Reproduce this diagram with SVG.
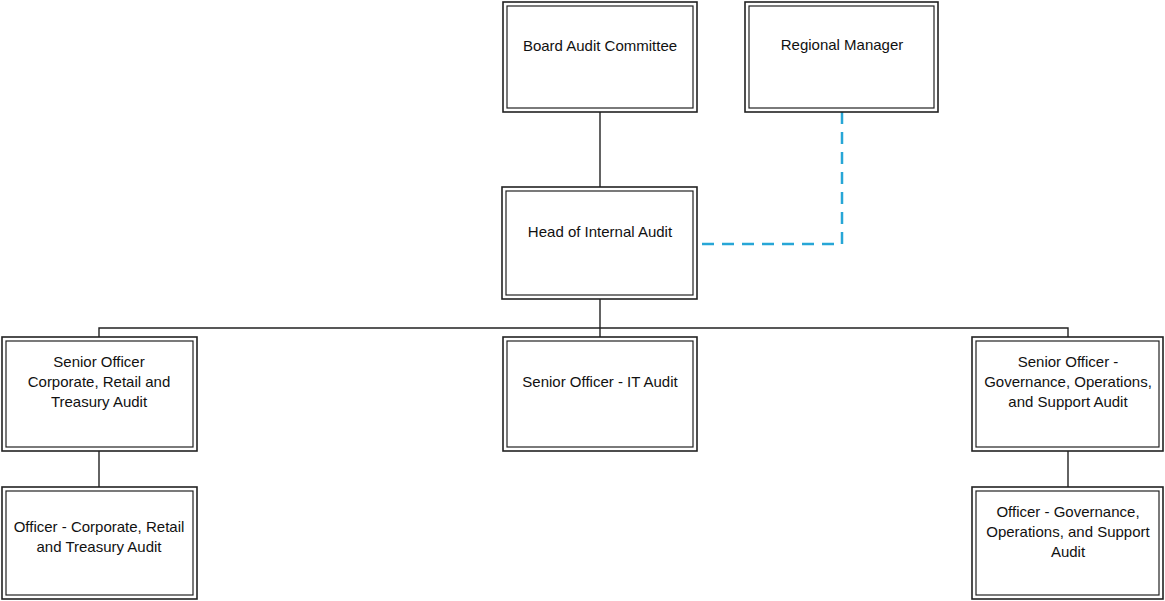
<svg xmlns="http://www.w3.org/2000/svg" width="1165" height="601" viewBox="0 0 1165 601">
<style>
.o{fill:#fff;stroke:#222;stroke-width:1.6}
.i{fill:none;stroke:#222;stroke-width:1.2}
.t{font-family:"Liberation Sans",Arial,sans-serif;font-size:15px;fill:#111;text-anchor:middle}
.c{fill:none;stroke:#222;stroke-width:1.4}
.d{fill:none;stroke:#27a6d6;stroke-width:2.5;stroke-dasharray:12 8}
</style>
<rect width="1165" height="601" fill="#fff"/>
<g id="connectors">
<line class="c" x1="600" y1="112" x2="600" y2="187"/>
<line class="c" x1="600" y1="299" x2="600" y2="337"/>
<polyline class="c" points="99,337 99,328 1068,328 1068,337"/>
<line class="c" x1="99" y1="451" x2="99" y2="487"/>
<line class="c" x1="1068" y1="450" x2="1068" y2="487"/>
<polyline class="d" points="842,112 842,244 697,244"/>
</g>
<g id="board">
<rect class="o" x="503" y="2" width="194" height="110"/><rect class="i" x="507" y="6" width="186" height="102"/>
<text class="t" x="600" y="51">Board Audit Committee</text>
</g>
<g id="regional">
<rect class="o" x="745" y="2" width="193" height="110"/><rect class="i" x="749" y="6" width="185" height="102"/>
<text class="t" x="842" y="50">Regional Manager</text>
</g>
<g id="head">
<rect class="o" x="502" y="187" width="195" height="112"/><rect class="i" x="506" y="191" width="187" height="104"/>
<text class="t" x="600" y="237">Head of Internal Audit</text>
</g>
<g id="senior-corp">
<rect class="o" x="2" y="337" width="195" height="114"/><rect class="i" x="6" y="341" width="187" height="106"/>
<text class="t" x="99" y="367">Senior Officer</text>
<text class="t" x="99" y="387">Corporate, Retail and</text>
<text class="t" x="99" y="407">Treasury Audit</text>
</g>
<g id="senior-it">
<rect class="o" x="503" y="337" width="194" height="114"/><rect class="i" x="507" y="341" width="186" height="106"/>
<text class="t" x="600" y="387">Senior Officer - IT Audit</text>
</g>
<g id="senior-gov">
<rect class="o" x="972" y="337" width="191" height="114"/><rect class="i" x="976" y="341" width="183" height="106"/>
<text class="t" x="1068" y="367">Senior Officer -</text>
<text class="t" x="1068" y="387">Governance, Operations,</text>
<text class="t" x="1068" y="407">and Support Audit</text>
</g>
<g id="officer-corp">
<rect class="o" x="2" y="487" width="195" height="112"/><rect class="i" x="6" y="491" width="187" height="104"/>
<text class="t" x="99" y="532">Officer - Corporate, Retail</text>
<text class="t" x="99" y="552">and Treasury Audit</text>
</g>
<g id="officer-gov">
<rect class="o" x="972" y="487" width="191" height="112"/><rect class="i" x="976" y="491" width="183" height="104"/>
<text class="t" x="1068" y="517">Officer - Governance,</text>
<text class="t" x="1068" y="537">Operations, and Support</text>
<text class="t" x="1068" y="557">Audit</text>
</g>
</svg>
